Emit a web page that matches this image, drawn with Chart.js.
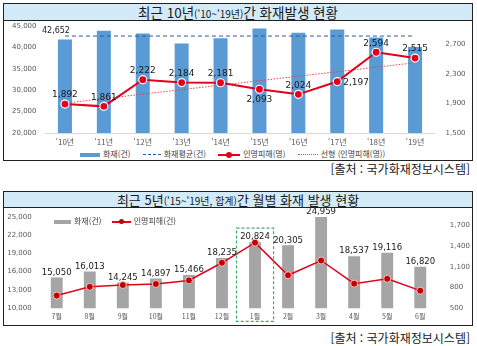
<!DOCTYPE html>
<html lang="ko">
<head>
<meta charset="utf-8">
<script src="https://cdn.jsdelivr.net/npm/chart.js@4.4.1/dist/chart.umd.min.js"></script>
<style>
  body { margin:0; width:477px; height:346px; background:#fff; position:relative; overflow:hidden;
         font-family:"Noto Sans CJK KR", "Noto Sans", sans-serif; color:#1a1a1a; }
  .panel { position:absolute; left:3px; width:468px; border:1px solid #222; }
  #p1 { top:3px; height:156px; }
  #p2 { top:191px; height:133px; }
  .title { background:#D3EAF8; border-bottom:1px solid #222; text-align:center; white-space:nowrap; }
  #p1 .title { height:16px; line-height:16px; font-size:13.5px; }
  #p2 .title { height:15px; line-height:15px; font-size:13px; }
  .title small { font-size:10px; }
  canvas { position:absolute; left:0; }
  #c1 { top:17px; }
  #c2 { top:16px; }
  .legend { position:absolute; font-size:8px; line-height:10px; color:#404040; white-space:nowrap; }
  .legend .it { display:inline-block; margin-right:10px; }
  .sym { display:inline-block; vertical-align:middle; margin-right:3px; position:relative; }
  .src { position:absolute; right:7px; font-size:12px; line-height:14px; color:#1a1a1a; }
</style>
</head>
<body>
<div class="panel" id="p1">
  <div class="title">최근 10년<small>('10~'19년)</small>간 화재발생 현황</div>
  <canvas id="c1" width="468" height="127"></canvas>
  <div class="legend" style="left:76px; top:145px;">
    <span class="it"><span class="sym" style="width:20px;height:4px;background:#5B9BD5;"></span>화재(건)</span>
    <span class="it"><span class="sym" style="width:18px;border-top:1px dashed #2E5A9C;"></span>화재평균(건)</span>
    <span class="it"><span class="sym" style="width:22px;height:2px;background:#E3001B;"><span style="position:absolute;left:8px;top:-2px;width:6px;height:6px;border-radius:3px;background:#E3001B;"></span></span>인명피해(명)</span>
    <span class="it"><span class="sym" style="width:20px;border-top:1px dotted #E04848;"></span>선형 (인명피해(명))</span>
  </div>
</div>
<div class="src" style="top:162px;">[출처 : 국가화재정보시스템]</div>

<div class="panel" id="p2">
  <div class="title">최근 5년<small>('15~'19년, 합계)</small>간 월별 화재 발생 현황</div>
  <canvas id="c2" width="468" height="117"></canvas>
  <div class="legend" style="left:50px; top:24px;">
    <span class="it" style="margin-right:8px;"><span class="sym" style="width:17px;height:4px;background:#A5A5A5;"></span>화재(건)</span>
    <span class="it"><span class="sym" style="width:19px;height:2px;background:#E3001B;"><span style="position:absolute;left:7px;top:-2px;width:5px;height:5px;border-radius:3px;background:#C00000;"></span></span>인명피해(건)</span>
  </div>
</div>
<div class="src" style="top:331px;">[출처 : 국가화재정보시스템]</div>

<script>
// ---- top chart data ('10 ~ '19) ----
const years = ["'10년", "'11년", "'12년", "'13년", "'14년", "'15년", "'16년", "'17년", "'18년", "'19년"];
const fireCounts = [41863, 43875, 43249, 40932, 42135, 44435, 43413, 44178, 42338, 40103];
const fireAverage = 42652;
const casualties = [1892, 1861, 2222, 2184, 2181, 2093, 2024, 2197, 2594, 2515];
const trendEnds = [1905, 2452];   // dotted trend line read at '10 and '19
const casualtyLabelPos = ["top", "top", "top", "top", "top", "bottom", "top", "right", "top", "top"];
const topLeftTicks = [20000, 25000, 30000, 35000, 40000, 45000];
const topRightTicks = [1500, 1900, 2300, 2700];

// ---- bottom chart data (monthly totals '15 ~ '19) ----
const months = ["7월", "8월", "9월", "10월", "11월", "12월", "1월", "2월", "3월", "4월", "5월", "6월"];
const monthFires = [15050, 16013, 14245, 14897, 15466, 18235, 20824, 20305, 24959, 18537, 19116, 16820];
const monthCasualties = [685, 812, 838, 853, 905, 1161, 1453, 980, 1194, 858, 928, 756];
const highlightMonth = "1월";
const bottomLeftTicks = [10000, 13000, 16000, 19000, 22000, 25000];
const bottomRightTicks = [500, 800, 1100, 1400, 1700];

const fmt = v => v.toLocaleString("en-US");
const numFont = "DejaVu Sans";
const tickFont = { family: "DejaVu Sans", size: 7 };
const catFont = { family: "Noto Sans CJK KR", size: 8 };
const setTicks = list => s => { s.ticks = list.map(v => ({ value: v })); };
// fixed axis width, and no extra top/bottom room for the end labels
const fixWidth = w => s => { s.width = w; s.paddingTop = 0; s.paddingBottom = 0; };

const avgLine = years.map(() => fireAverage);
const trendLine = years.map((y, i) => i === 0 ? trendEnds[0] : (i === years.length - 1 ? trendEnds[1] : null));

const topLabels = {
  id: "topLabels",
  afterDatasetsDraw(chart) {
    const ctx = chart.ctx;
    ctx.save();
    // bar values, rotated inside the bars
    ctx.fillStyle = "#17305A";
    ctx.font = "9px 'Liberation Sans Narrow', 'Liberation Sans', sans-serif";
    ctx.textAlign = "right";
    ctx.textBaseline = "middle";
    chart.getDatasetMeta(0).data.forEach((bar, i) => {
      ctx.save();
      ctx.translate(bar.x, bar.base - 3);
      ctx.rotate(Math.PI / 2);
      ctx.fillText(fmt(fireCounts[i]), 0, 0);
      ctx.restore();
    });
    // average value
    const avgPts = chart.getDatasetMeta(1).data;
    ctx.fillStyle = "#1a1a1a";
    ctx.font = "8px " + numFont;
    ctx.textAlign = "right";
    ctx.fillText(fmt(fireAverage), avgPts[0].x + 5, avgPts[0].y - 5);
    // casualty values
    ctx.font = "9px " + numFont;
    chart.getDatasetMeta(2).data.forEach((p, i) => {
      const pos = casualtyLabelPos[i];
      if (pos === "right") {
        ctx.textAlign = "left";
        ctx.fillText(fmt(casualties[i]), p.x + 6, p.y + 1);
      } else {
        ctx.textAlign = "center";
        ctx.fillText(fmt(casualties[i]), p.x, pos === "bottom" ? p.y + 10 : p.y - 9);
      }
    });
    ctx.restore();
  }
};

const bottomLabels = {
  id: "bottomLabels",
  afterDatasetsDraw(chart) {
    const ctx = chart.ctx;
    const x = chart.scales.x;
    ctx.save();
    ctx.textBaseline = "middle";
    chart.getDatasetMeta(0).data.forEach((bar, i) => {
      ctx.fillStyle = "#1a1a1a";
      ctx.font = "8.5px " + numFont;
      ctx.textAlign = "center";
      ctx.fillText(fmt(monthFires[i]), bar.x, bar.y - 5);
      ctx.save();
      ctx.translate(bar.x, bar.base - 2);
      ctx.rotate(Math.PI / 2);
      ctx.textAlign = "right";
      ctx.font = "9.5px 'Liberation Sans Narrow', 'Liberation Sans', sans-serif";
      ctx.fillText(fmt(monthCasualties[i]), 0, 0);
      ctx.restore();
    });
    // dashed green box around the highlighted month
    const cx = x.getPixelForValue(months.indexOf(highlightMonth));
    const half = (x.width / months.length) / 2 + 2;
    ctx.strokeStyle = "#3DAE6A";
    ctx.lineWidth = 1.2;
    ctx.setLineDash([3, 2]);
    ctx.strokeRect(cx - half, chart.chartArea.top + 11.5, half * 2, chart.chartArea.bottom - chart.chartArea.top + 1.5);
    ctx.restore();
  }
};

new Chart(document.getElementById("c1"), {
  data: {
    labels: years,
    datasets: [
      { type: "bar", label: "화재(건)", data: fireCounts, backgroundColor: "#5B9BD5",
        barPercentage: 0.36, categoryPercentage: 1, yAxisID: "y", order: 3 },
      { type: "line", label: "화재평균(건)", data: avgLine, borderColor: "#2E5A9C", borderWidth: 1,
        borderDash: [4, 3], pointRadius: 0, yAxisID: "y", order: 2 },
      { type: "line", label: "인명피해(명)", data: casualties, borderColor: "#E3001B", borderWidth: 2,
        pointRadius: 4, pointBackgroundColor: "#E3001B", pointBorderColor: "#fff", pointBorderWidth: 1.2,
        yAxisID: "y1", order: 0 },
      { type: "line", label: "선형 (인명피해(명))", data: trendLine, borderColor: "#E04848", borderWidth: 1,
        borderDash: [1.5, 1.5], pointRadius: 0, spanGaps: true, yAxisID: "y1", order: 1 }
    ]
  },
  options: {
    responsive: false,
    animation: false,
    layout: { autoPadding: false, padding: { top: 5 } },
    plugins: { legend: { display: false }, tooltip: { enabled: false } },
    scales: {
      x: {
        grid: { display: false, drawTicks: false },
        border: { display: true, color: "#D9D9D9" },
        ticks: { font: catFont, color: "#595959", padding: 4, maxRotation: 0, autoSkip: false },
        afterFit: s => { s.height = 15; }
      },
      y: {
        position: "left", min: 20000, max: 45000,
        grid: { display: false, drawTicks: false }, border: { display: false },
        ticks: { font: tickFont, color: "#595959", padding: 9, callback: fmt },
        afterBuildTicks: setTicks(topLeftTicks),
        afterFit: fixWidth(41.5)
      },
      y1: {
        position: "right", min: 1500, max: 2950,
        grid: { display: false, drawTicks: false }, border: { display: false },
        ticks: { font: tickFont, color: "#595959", padding: 11, callback: fmt },
        afterBuildTicks: setTicks(topRightTicks),
        afterFit: fixWidth(37.5)
      }
    }
  },
  plugins: [topLabels]
});

new Chart(document.getElementById("c2"), {
  data: {
    labels: months,
    datasets: [
      { type: "bar", label: "화재(건)", data: monthFires, backgroundColor: "#A5A5A5",
        barPercentage: 0.36, categoryPercentage: 1, yAxisID: "y", order: 2 },
      { type: "line", label: "인명피해(건)", data: monthCasualties, borderColor: "#E3001B", borderWidth: 1.5,
        pointRadius: 3.5, pointBackgroundColor: "#C00000", pointBorderColor: "#FFC0C0", pointBorderWidth: 1,
        yAxisID: "y1", order: 0 }
    ]
  },
  options: {
    responsive: false,
    animation: false,
    layout: { autoPadding: false, padding: { top: 8.7 } },
    plugins: { legend: { display: false }, tooltip: { enabled: false } },
    scales: {
      x: {
        grid: { display: false, drawTicks: false }, border: { display: false },
        ticks: { font: { family: "Noto Sans CJK KR", size: 7 }, color: "#595959", padding: 4, maxRotation: 0, autoSkip: false },
        afterFit: s => { s.height = 16.7; }
      },
      y: {
        position: "left", min: 10000, max: 25000,
        grid: { display: false, drawTicks: false }, border: { display: false },
        ticks: { font: tickFont, color: "#595959", padding: 8.5, callback: fmt },
        afterBuildTicks: setTicks(bottomLeftTicks),
        afterFit: fixWidth(36.2)
      },
      y1: {
        position: "right", min: 500, max: 1830,
        grid: { display: false, drawTicks: false }, border: { display: false },
        ticks: { font: tickFont, color: "#595959", padding: 13, callback: fmt },
        afterBuildTicks: setTicks(bottomRightTicks),
        afterFit: fixWidth(35.2)
      }
    }
  },
  plugins: [bottomLabels]
});
</script>
</body>
</html>
